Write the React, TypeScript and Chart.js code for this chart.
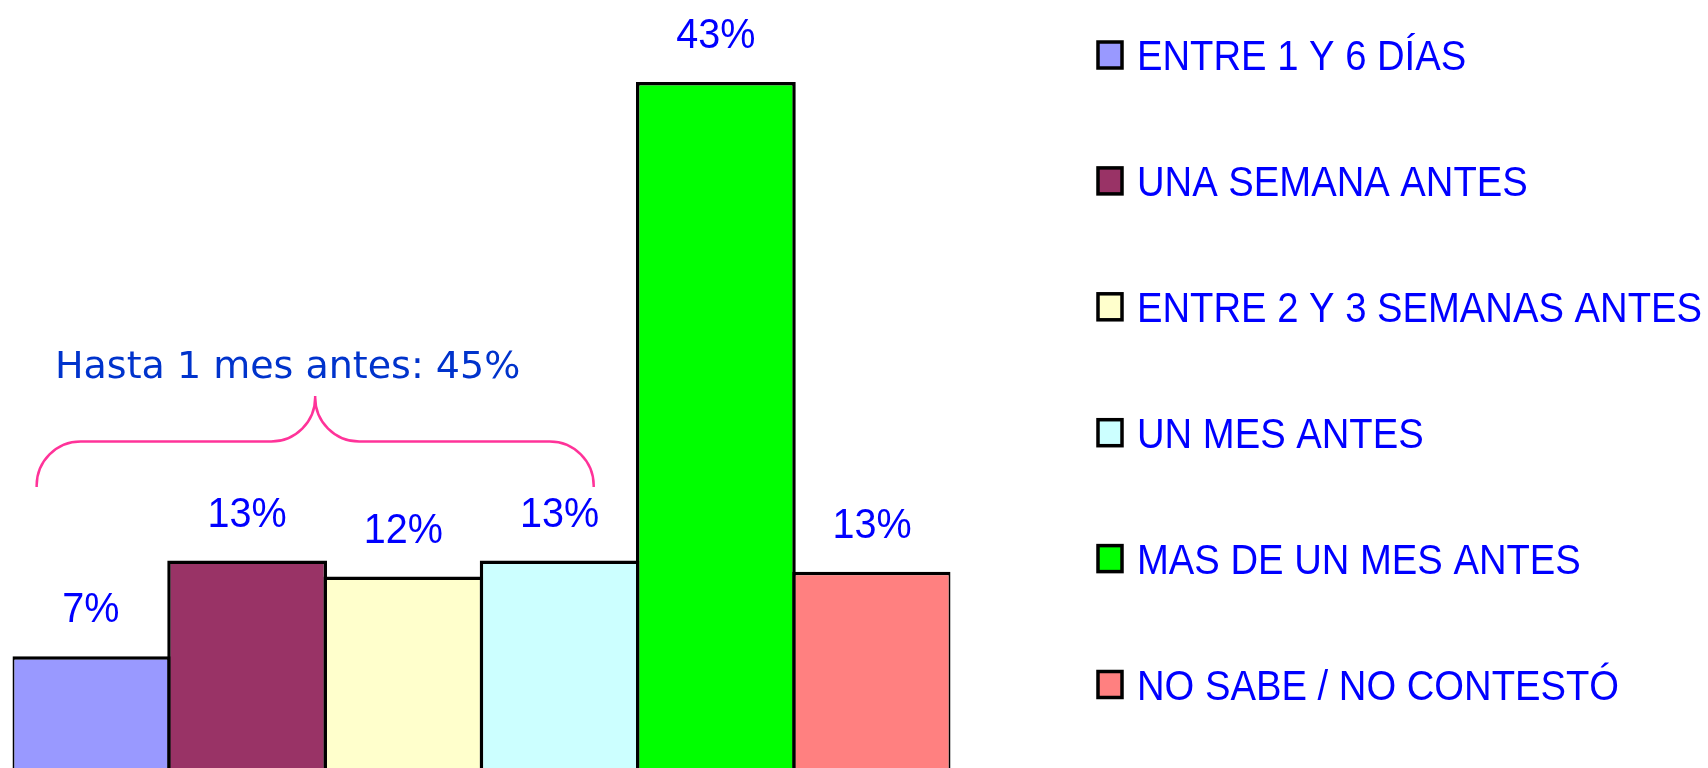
import React, { useEffect, useRef } from "react";
import { Chart, registerables } from "chart.js";
Chart.register(...registerables);

const categories = [
  "ENTRE 1 Y 6 DÍAS",
  "UNA SEMANA ANTES",
  "ENTRE 2 Y 3 SEMANAS ANTES",
  "UN MES ANTES",
  "MAS DE UN MES ANTES",
  "NO SABE / NO CONTESTÓ",
];
const values = [7, 13, 12, 13, 43, 12.3];
const valueLabels = ["7%", "13%", "12%", "13%", "43%", "13%"];
const barColors = ["#9999FF", "#993366", "#FFFFCC", "#CCFFFF", "#00FF00", "#FF8080"];
const bracketText = "Hasta 1 mes antes: 45%";

const W = 1708;
const H = 768;

const valueLabelPlugin = {
  id: "valueLabels",
  afterDatasetsDraw(chart: any) {
    const ctx = chart.ctx;
    const meta = chart.getDatasetMeta(0);
    ctx.save();
    ctx.fillStyle = "#0000FF";
    ctx.font = "43px 'Liberation Sans', Arial, sans-serif";
    ctx.textBaseline = "alphabetic";
    ctx.textAlign = "center";
    meta.data.forEach((bar: any, i: number) => {
      ctx.save();
      ctx.translate(bar.x, bar.y - 34);
      ctx.scale(0.92, 1);
      ctx.fillText(valueLabels[i], 0, 0);
      ctx.restore();
    });
    ctx.restore();
  },
};

const bracketPlugin = {
  id: "bracket",
  afterDatasetsDraw(chart: any) {
    const ctx = chart.ctx;
    const xs = chart.scales.x;
    const left = xs.getPixelForValue(-0.347);
    const right = xs.getPixelForValue(3.218);
    const mid = (left + right) / 2;
    const yEnd = 487;
    const yLine = 441.5;
    const yTip = 396;
    const r = 44;
    ctx.save();
    ctx.strokeStyle = "#FF3399";
    ctx.lineWidth = 2.5;
    ctx.beginPath();
    ctx.moveTo(left, yEnd);
    ctx.arcTo(left, yLine, left + r, yLine, r);
    ctx.lineTo(mid - r, yLine);
    ctx.arcTo(mid, yLine, mid, yTip, r);
    ctx.lineTo(mid, yTip);
    ctx.moveTo(mid, yTip);
    ctx.arcTo(mid, yLine, mid + r, yLine, r);
    ctx.lineTo(right - r, yLine);
    ctx.arcTo(right, yLine, right, yEnd, r);
    ctx.lineTo(right, yEnd);
    ctx.stroke();
    ctx.fillStyle = "#0033CC";
    ctx.font = "38px 'DejaVu Sans', Verdana, sans-serif";
    ctx.textBaseline = "alphabetic";
    ctx.textAlign = "left";
    ctx.fillText(bracketText, 55, 378);
    ctx.restore();
  },
};

const legendPlugin = {
  id: "customLegend",
  afterDraw(chart: any) {
    const ctx = chart.ctx;
    ctx.save();
    ctx.font = "42px 'Liberation Sans', Arial, sans-serif";
    ctx.textBaseline = "alphabetic";
    ctx.textAlign = "left";
    categories.forEach((label, i) => {
      const cy = 55 + i * 125.9;
      ctx.fillStyle = barColors[i];
      ctx.fillRect(1098, cy - 13, 24, 26);
      ctx.strokeStyle = "#000000";
      ctx.lineWidth = 3.5;
      ctx.strokeRect(1098, cy - 13, 24, 26);
      ctx.fillStyle = "#0000FF";
      ctx.save();
      ctx.translate(1137, cy + 15);
      ctx.scale(0.91, 1);
      ctx.fillText(label, 0, 0);
      ctx.restore();
    });
    ctx.restore();
  },
};

export default function App() {
  const ref = useRef<HTMLCanvasElement>(null);
  useEffect(() => {
    if (!ref.current) return;
    const chart = new Chart(ref.current, {
      type: "bar",
      data: {
        labels: categories,
        datasets: [
          {
            data: values,
            backgroundColor: barColors,
            borderColor: "#000000",
            borderWidth: 3.5,
            borderSkipped: "start",
            barPercentage: 1.0225,
            categoryPercentage: 1,
          },
        ],
      },
      options: {
        responsive: false,
        animation: false,
        devicePixelRatio: 1,
        layout: { padding: { left: 12.75, right: 757.75, top: 50, bottom: 0 } },
        scales: {
          x: { display: false },
          y: { display: false, min: 0, max: 45 },
        },
        plugins: {
          legend: { display: false },
          tooltip: { enabled: false },
        },
      },
      plugins: [valueLabelPlugin, bracketPlugin, legendPlugin],
    });
    return () => chart.destroy();
  }, []);
  return (
    <div style={{ position: "fixed", left: 0, top: 0, width: W, height: H, background: "#fff" }}>
      <canvas ref={ref} width={W} height={H} />
    </div>
  );
}
